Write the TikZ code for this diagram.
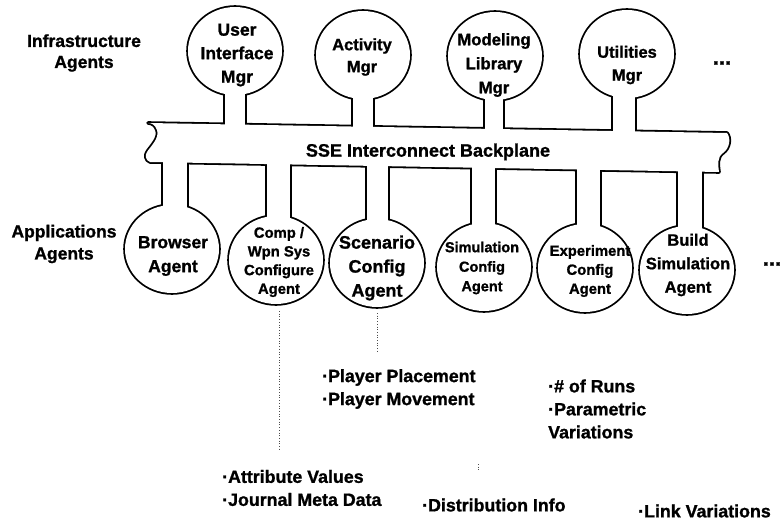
\documentclass[tikz,border=0pt]{standalone}
\usepackage{fontspec}
\setmainfont{Liberation Sans}[BoldFeatures={FakeBold=1.2}]
\begin{document}
\begin{tikzpicture}[x=1pt,y=-1pt,
  shell/.style={draw=black, line width=3.6pt, line join=round},
  hollow/.style={fill=white},
  lbl/.style={font=\fontsize{17.5}{23.5}\selectfont\bfseries, align=center, inner sep=0pt},
  smalllbl/.style={font=\fontsize{14.8}{19}\selectfont\bfseries, align=center, inner sep=0pt},
  note/.style={font=\fontsize{17.8}{23}\selectfont\bfseries, align=left, anchor=west, inner sep=0pt},
  lead/.style={dotted, line width=0.7pt, black!70}
]
\useasboundingbox (0,0) rectangle (783,521);

% backplane outline with broken ends
\def\backplane{(148,123) -- (727,133)
  .. controls (731,138) and (730,148) .. (723,153)
  .. controls (717,157) and (718,165) .. (719,172)
  -- (150,162)
  .. controls (145,160) and (145,155) .. (147,152)
  .. controls (150,147) and (160,138) .. (157,130)
  .. controls (155,125) and (152,123) .. (148,123) -- cycle}

% outer strokes of every part
\draw[shell] \backplane;
\foreach \a/\b/\t/\u in {225/245/51/135, 353/373/55/135, 485/503/56/135, 613/635/54/140,
                         163/187/150/249, 267/290/150/260, 367/388/150/263,
                         472/495/150/267, 577/600/150/268, 678/702/150/270}
  \draw[shell] (\a,\t) rectangle (\b,\u);
\foreach \cx/\cy in {235/51, 363/55, 495/56, 627/54,
                     172/249, 276/260, 377/263, 484/267, 585/268, 687/270}
  \draw[shell] (\cx,\cy) ellipse [x radius=47, y radius=44];

% white interiors merge the parts into one outline
\fill[hollow] \backplane;
\foreach \a/\b/\t/\u in {225/245/51/135, 353/373/55/135, 485/503/56/135, 613/635/54/140,
                         163/187/150/249, 267/290/150/260, 367/388/150/263,
                         472/495/150/267, 577/600/150/268, 678/702/150/270}
  \fill[hollow] (\a,\t) rectangle (\b,\u);
\foreach \cx/\cy in {235/51, 363/55, 495/56, 627/54,
                     172/249, 276/260, 377/263, 484/267, 585/268, 687/270}
  \fill[hollow] (\cx,\cy) ellipse [x radius=47, y radius=44];

% row labels
\node[lbl, font=\fontsize{17.5}{21}\selectfont\bfseries] (infra) at (84,53) {Infrastructure\\Agents};
\node[lbl, font=\fontsize{17.5}{22}\selectfont\bfseries] (apps) at (64,244) {Applications\\Agents};

% infrastructure agents
\node[lbl] (ui) at (237,55) {User\\Interface\\Mgr};
\node[lbl, font=\fontsize{16.5}{22}\selectfont\bfseries] (act) at (362,57) {Activity\\Mgr};
\node[lbl, font=\fontsize{16.7}{24}\selectfont\bfseries] (mod) at (494,65) {Modeling\\Library\\Mgr};
\node[lbl, font=\fontsize{16.5}{23}\selectfont\bfseries] (util) at (627,65) {Utilities\\Mgr};
\node[lbl, font=\fontsize{22}{22}\selectfont\bfseries] (moreinfra) at (722,63) {...};

% backplane title
\node[lbl, font=\fontsize{18}{20}\selectfont\bfseries] (sse) at (428,152) {SSE Interconnect Backplane};

% application agents
\node[lbl, font=\fontsize{17.5}{24}\selectfont\bfseries] (brow) at (173,256) {Browser\\Agent};
\node[smalllbl, font=\fontsize{14.8}{18.7}\selectfont\bfseries] (comp) at (279,262) {Comp /\\Wpn Sys\\Configure\\Agent};
\node[lbl, font=\fontsize{18}{24}\selectfont\bfseries] (scen) at (377,268) {Scenario\\Config\\Agent};
\node[smalllbl, font=\fontsize{14.5}{19.5}\selectfont\bfseries] (simc) at (482,268) {Simulation\\Config\\Agent};
\node[smalllbl, font=\fontsize{14.8}{19}\selectfont\bfseries] (expc) at (590,271) {Experiment\\Config\\Agent};
\node[lbl, font=\fontsize{16.5}{23.5}\selectfont\bfseries] (build) at (688,265) {Build\\Simulation\\Agent};
\node[lbl, font=\fontsize{22}{22}\selectfont\bfseries] (moreapps) at (772,264) {...};

% dotted leaders below the agents
\coordinate (compA) at (279,311);
\coordinate (compB) at (279,450);
\coordinate (scenA) at (377,313);
\coordinate (scenB) at (377,352);
\coordinate (distA) at (478,464);
\coordinate (distB) at (478,472);
\draw[lead] (compA) -- (compB);
\draw[lead] (scenA) -- (scenB);
\draw[lead] (distA) -- (distB);

% detail notes
\node[note] (place) at (322,389) {·Player Placement\\·Player Movement};
\node[note] (runs) at (548,409) {·\# of Runs\\·Parametric\\Variations};
\node[note] (attr) at (222,488) {·Attribute Values\\·Journal Meta Data};
\node[note] (distr) at (422,505) {·Distribution Info};
\node[note] (link) at (638,511) {·Link Variations};
\end{tikzpicture}
\end{document}
